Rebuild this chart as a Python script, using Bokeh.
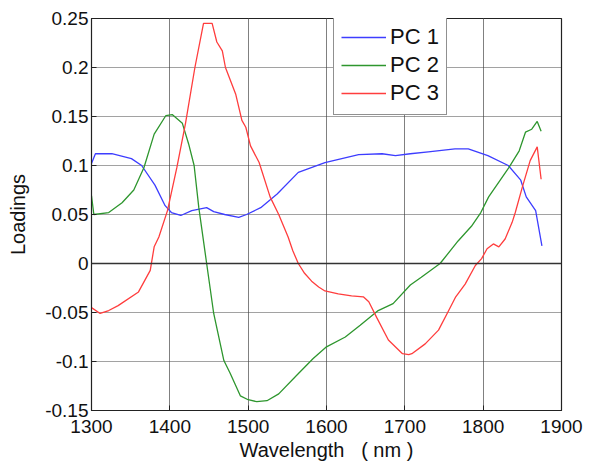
from bokeh.plotting import figure
from bokeh.models import Span, Legend, LegendItem, FixedTicker
from bokeh.embed import file_html
from bokeh.resources import INLINE

wl1 = [1300,1305,1326,1351,1364,1381,1394,1402,1414,1428,1447,1456,1470,1488,1498,1516,1537,1564,1598,1641,1671,1688,1707,1730,1764,1781,1806,1832,1848,1855,1867,1875]
pc1 = [0.102,0.112,0.112,0.107,0.100,0.080,0.059,0.052,0.049,0.054,0.057,0.053,0.050,0.047,0.050,0.057,0.071,0.093,0.103,0.111,0.112,0.110,0.112,0.114,0.117,0.117,0.110,0.100,0.085,0.068,0.054,0.018]

wl2 = [1300,1303,1322,1339,1354,1367,1380,1395,1403,1416,1424,1431,1437,1447,1456,1469,1477,1490,1500,1511,1524,1539,1562,1583,1600,1624,1643,1666,1685,1707,1721,1745,1768,1785,1797,1807,1833,1846,1854,1862,1869,1874]
pc2 = [0.069,0.050,0.052,0.062,0.075,0.098,0.132,0.151,0.152,0.143,0.122,0.100,0.057,0.0,-0.051,-0.099,-0.112,-0.135,-0.139,-0.141,-0.140,-0.133,-0.114,-0.097,-0.085,-0.075,-0.063,-0.048,-0.041,-0.022,-0.014,0.0,0.023,0.038,0.052,0.068,0.098,0.115,0.134,0.137,0.145,0.135]

wl3 = [1300,1311,1322,1334,1360,1375,1380,1386,1397,1409,1420,1432,1443,1454,1460,1467,1471,1484,1492,1497,1503,1514,1528,1539,1551,1557,1564,1572,1581,1590,1598,1615,1632,1647,1654,1664,1679,1697,1705,1709,1726,1743,1756,1765,1777,1790,1798,1805,1813,1820,1828,1837,1841,1850,1860,1869,1874]
pc3 = [-0.045,-0.051,-0.048,-0.043,-0.029,-0.007,0.017,0.027,0.054,0.098,0.143,0.200,0.245,0.245,0.226,0.217,0.200,0.173,0.146,0.139,0.120,0.103,0.068,0.050,0.027,0.013,0.0,-0.010,-0.018,-0.024,-0.028,-0.031,-0.033,-0.034,-0.039,-0.055,-0.078,-0.092,-0.093,-0.092,-0.082,-0.068,-0.048,-0.034,-0.021,-0.002,0.005,0.015,0.020,0.017,0.025,0.042,0.052,0.078,0.105,0.119,0.086]

x_ticks = [1300, 1400, 1500, 1600, 1700, 1800, 1900]
y_ticks = [-0.15, -0.1, -0.05, 0, 0.05, 0.1, 0.15, 0.2, 0.25]
y_tick_labels = ["-0.15", "-0.1", "-0.05", "0", "0.05", "0.1", "0.15", "0.2", "0.25"]
names = ["PC 1", "PC 2", "PC 3"]
colors = ["#3d3dff", "#2e962e", "#ff3d3d"]

FONT = "Liberation Sans"

p = figure(width=588, height=466, x_range=(1300, 1900), y_range=(-0.15, 0.25),
           output_backend="svg", toolbar_location=None,
           min_border_left=91, min_border_right=27, min_border_top=18, min_border_bottom=56)

p.outline_line_color = "#222222"
p.outline_line_width = 1.2

p.xaxis.ticker = FixedTicker(ticks=x_ticks)
p.yaxis.ticker = FixedTicker(ticks=y_ticks)
p.yaxis.major_label_overrides = {t: l for t, l in zip(y_ticks, y_tick_labels)}
p.xaxis.major_label_overrides = {t: str(t) for t in x_ticks}

for ax in (p.xaxis[0], p.yaxis[0]):
    ax.major_tick_in = 5
    ax.major_tick_out = 0
    ax.minor_tick_in = 0
    ax.minor_tick_out = 0
    ax.axis_line_color = "#222222"
    ax.major_tick_line_color = "#222222"
    ax.major_label_text_font = FONT
    ax.major_label_text_font_size = "19px"
    ax.major_label_text_color = "#111111"
    ax.axis_label_text_font = FONT
    ax.axis_label_text_font_size = "20px"
    ax.axis_label_text_font_style = "normal"
    ax.axis_label_text_color = "#111111"

p.xaxis.axis_label = "Wavelength\u00a0\u00a0\u00a0(\u00a0nm\u00a0)"
p.yaxis.axis_label = "Loadings"
p.xaxis.major_label_standoff = 9
p.yaxis.major_label_standoff = 3
p.xaxis.axis_label_standoff = 3
p.yaxis.axis_label_standoff = 13

p.xgrid.ticker = FixedTicker(ticks=x_ticks)
p.ygrid.ticker = FixedTicker(ticks=y_ticks)
p.xgrid.grid_line_color = "#808080"
p.xgrid.grid_line_width = 1
p.ygrid.grid_line_color = "#444444"
p.ygrid.grid_line_dash = "1 1"
p.ygrid.grid_line_width = 1

p.add_layout(Span(location=0, dimension="width", line_color="#333333", line_width=1.5))

r1 = p.line(wl1, pc1, line_color=colors[0], line_width=1.3)
r2 = p.line(wl2, pc2, line_color=colors[1], line_width=1.3)
r3 = p.line(wl3, pc3, line_color=colors[2], line_width=1.3)

legend = Legend(items=[LegendItem(label=names[0], renderers=[r1]),
                       LegendItem(label=names[1], renderers=[r2]),
                       LegendItem(label=names[2], renderers=[r3])],
                location=(242, 295))
legend.label_text_font = FONT
legend.label_text_font_size = "22px"
legend.label_text_color = "#111111"
legend.glyph_width = 45
legend.glyph_height = 28
legend.label_height = 28
legend.label_standoff = 4
legend.spacing = 0
legend.padding = 7
legend.margin = 0
legend.border_line_color = "#222222"
legend.border_line_width = 1.2
legend.background_fill_color = "white"
legend.background_fill_alpha = 1
p.add_layout(legend, "center")

open("out.html", "w").write(file_html(p, INLINE))
